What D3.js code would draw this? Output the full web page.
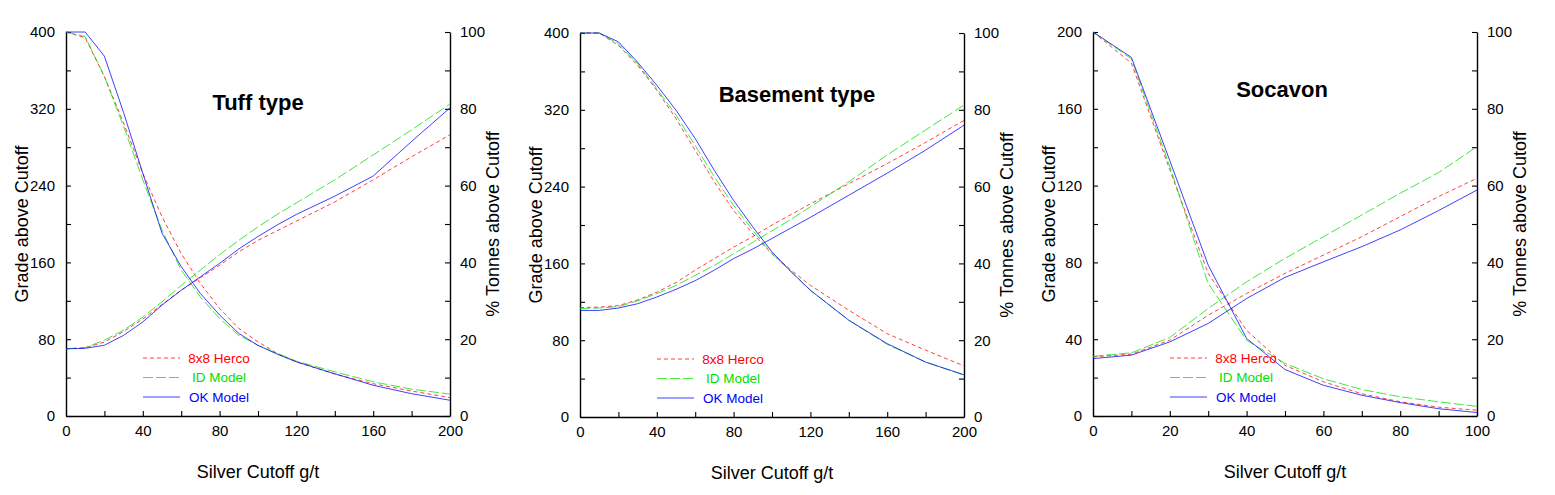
<!DOCTYPE html>
<html>
<head>
<meta charset="utf-8">
<script src="https://cdn.jsdelivr.net/npm/d3@7/dist/d3.min.js"></script>
<style>
  html, body { margin: 0; padding: 0; background: #fff; }
  svg { display: block; font-family: "Liberation Sans", Arial, Helvetica, sans-serif; }
</style>
</head>
<body>
<svg id="chart" width="1555" height="495"></svg>
<script>
// ---------------- DATA ----------------
const seriesNames = ["8x8 Herco", "ID Model", "OK Model"];

// Tuff type
const tuffCutoff = [0,10,20,30,40,50,60,70,80,90,100,110,120,140,160,180,200];
const tuffTonnesHerco = [100,98.5,88.4,76.3,63.2,51.9,42.3,34.5,28.0,22.8,19.3,16.3,14.1,10.9,8.4,6.5,4.8];
const tuffTonnesID    = [100,98.8,88.4,75.4,61.5,48.4,38.0,31.0,25.4,21.0,18.4,16.3,14.3,11.5,8.9,7.0,5.7];
const tuffTonnesOK    = [100,100,93.7,79.0,63.2,47.6,38.9,31.9,26.3,21.5,18.4,16.1,14.1,11.0,8.0,5.8,4.1];
const tuffGradeHerco  = [70,71,77,88,101,116,131,144,157,171,183,193,203,223,246,270,293];
const tuffGradeID     = [70,71.3,79,89.4,103,119,136,152,168,183,197,210,222,246,272,298,325];
const tuffGradeOK     = [70,70.5,73.7,84,98,115.5,131,145,159,174,187,199,210,229,250,286,321];

// Basement type
const baseCutoff = [0,10,20,30,40,50,60,70,80,90,100,110,120,140,160,180,200];
const baseTonnesHerco = [100,100,96.8,91.6,85.1,77.7,69.4,61.2,53.8,47.7,42.5,38.2,34.3,27.8,21.7,17.4,13.3];
const baseTonnesID    = [100,100,97.2,92.0,85.5,78.6,70.7,62.5,55.1,48.6,42.5,37.8,33.0,25.2,18.9,14.3,10.9];
const baseTonnesOK    = [100,100,97.7,92.4,86.4,79.9,72.5,64.2,56.4,49.5,43.0,37.8,33.0,25.2,19.1,14.3,11.0];
const baseGradeHerco  = [114,114.5,116,122,130,140,153,165,177,188,200,211,222,243,264,286,309];
const baseGradeID     = [113,113.5,115,121,128.5,137,147.6,158,170,182,194,206,219,245,273,299,325];
const baseGradeOK     = [111,111,113.5,118,125,133,142,153,165,175,186,197,208,231,254,278,304];

// Socavon
const socCutoff = [0,10,20,30,40,50,60,70,80,90,100];
const socTonnesHerco = [100,91.9,64.1,37.1,22.3,13.2,8.9,5.8,3.7,2.3,1.5];
const socTonnesID    = [100,93.0,65.0,34.5,19.7,13.7,9.7,6.9,5.0,3.7,2.5];
const socTonnesOK    = [100,93.4,66.5,39.3,20.2,12.1,8.0,5.4,3.5,1.9,0.9];
const socGradeHerco  = [30.8,32.2,39.5,52.5,63.8,74.3,83.8,93.4,103.8,114.3,123.8];
const socGradeID     = [31.1,32.9,40.9,56,69.9,82.1,93.4,104.7,116,126.8,140.3];
const socGradeOK     = [29.9,31.7,38.6,48.2,61.2,72.2,80.3,88.2,96.9,107,117.7];

// Tick labels
const tuffXTicks = [0,40,80,120,160,200];
const tuffGradeTicks = [0,80,160,240,320,400];
const socXTicks = [0,20,40,60,80,100];
const socGradeTicks = [0,40,80,120,160,200];
const tonnesTicks = [0,20,40,60,80,100];

// ---------------- STYLE ----------------
const colors = ["#ff0000", "#00e000", "#0000ff"];
const dashes = ["4,3", "10,3", null];

const panels = [
  { title: "Basement type", left: 580, top: 33, titleX: 217, titleY: 102,
    cutoff: baseCutoff, xMax: 200, xMinor: 20, xTicks: tuffXTicks,
    gMax: 400, gMinor: 40, gTicks: tuffGradeTicks,
    tonnes: [baseTonnesHerco, baseTonnesID, baseTonnesOK],
    grade: [baseGradeHerco, baseGradeID, baseGradeOK] },
  { title: "Tuff type", left: 66, top: 32, titleX: 192, titleY: 110,
    cutoff: tuffCutoff, xMax: 200, xMinor: 20, xTicks: tuffXTicks,
    gMax: 400, gMinor: 40, gTicks: tuffGradeTicks,
    tonnes: [tuffTonnesHerco, tuffTonnesID, tuffTonnesOK],
    grade: [tuffGradeHerco, tuffGradeID, tuffGradeOK] },
  { title: "Socavon", left: 1093, top: 32, titleX: 189, titleY: 97,
    cutoff: socCutoff, xMax: 100, xMinor: 10, xTicks: socXTicks,
    gMax: 200, gMinor: 20, gTicks: socGradeTicks,
    tonnes: [socTonnesHerco, socTonnesID, socTonnesOK],
    grade: [socGradeHerco, socGradeID, socGradeOK] }
];

const W = 384, H = 384;
const svg = d3.select("#chart");

panels.forEach(p => {
  const g = svg.append("g").attr("transform", `translate(${p.left},${p.top})`);
  const x = d3.scaleLinear().domain([0, p.xMax]).range([0, W]);
  const yG = d3.scaleLinear().domain([0, p.gMax]).range([H, 0]);
  const yT = d3.scaleLinear().domain([0, 100]).range([H, 0]);

  const fmt = labels => d => labels.includes(d) ? String(d) : "";

  const xAxis = d3.axisBottom(x)
    .tickValues(d3.range(0, p.xMax + 0.001, p.xMinor))
    .tickFormat(fmt(p.xTicks)).tickSizeInner(-5).tickSizeOuter(0).tickPadding(9);
  const gAxis = d3.axisLeft(yG)
    .tickValues(d3.range(0, p.gMax + 0.001, p.gMinor))
    .tickFormat(fmt(p.gTicks)).tickSizeInner(-5).tickSizeOuter(0).tickPadding(11);
  const tAxis = d3.axisRight(yT)
    .tickValues(d3.range(0, 100.001, 10))
    .tickFormat(fmt(tonnesTicks)).tickSizeInner(-5).tickSizeOuter(0).tickPadding(10);

  const styleAxis = sel => {
    sel.selectAll("path.domain").attr("stroke", "#000").attr("stroke-width", 1.4);
    sel.selectAll("line").attr("stroke", "#000").attr("stroke-width", 1.1);
    sel.selectAll("text").attr("font-size", 15).attr("fill", "#000")
      .attr("font-family", "'Liberation Sans', Arial, sans-serif");
  };

  g.append("g").attr("transform", `translate(0,${H})`).call(xAxis).call(styleAxis);
  g.append("g").call(gAxis).call(styleAxis);
  g.append("g").attr("transform", `translate(${W},0)`).call(tAxis).call(styleAxis);

  // lines
  [0, 1, 2].forEach(i => {
    const gradeLine = d3.line().x((d, j) => x(p.cutoff[j])).y(d => yG(d));
    const tonLine = d3.line().x((d, j) => x(p.cutoff[j])).y(d => yT(d));
    [[p.grade[i], gradeLine], [p.tonnes[i], tonLine]].forEach(([vals, gen]) => {
      g.append("path").attr("d", gen(vals))
        .attr("fill", "none").attr("stroke", colors[i]).attr("stroke-width", 0.75)
        .attr("stroke-dasharray", dashes[i]);
    });
  });

  // legend
  seriesNames.forEach((name, i) => {
    const ly = 326 + i * 19.5;
    g.append("line").attr("x1", 77).attr("x2", 114).attr("y1", ly).attr("y2", ly)
      .attr("stroke", colors[i]).attr("stroke-width", 0.75).attr("stroke-dasharray", dashes[i]);
    g.append("text").attr("x", 153).attr("y", ly + 4.5).attr("text-anchor", "middle")
      .attr("font-size", 13.5).attr("fill", colors[i]).text(name);
  });

  // title
  g.append("text").attr("x", p.titleX).attr("y", p.titleY - p.top).attr("text-anchor", "middle")
    .attr("font-size", 22).attr("font-weight", "bold").attr("fill", "#000").text(p.title);

  // axis titles
  g.append("text").attr("transform", `translate(${-38},${H / 2}) rotate(-90)`)
    .attr("text-anchor", "middle").attr("font-size", 18).attr("fill", "#000")
    .text("Grade above Cutoff");
  g.append("text").attr("transform", `translate(${W + 49},${H / 2}) rotate(-90)`)
    .attr("text-anchor", "middle").attr("font-size", 18).attr("fill", "#000")
    .text("% Tonnes above Cutoff");
  g.append("text").attr("x", W / 2).attr("y", 446)
    .attr("text-anchor", "middle").attr("font-size", 18).attr("fill", "#000")
    .text("Silver Cutoff g/t");
});
</script>
</body>
</html>
